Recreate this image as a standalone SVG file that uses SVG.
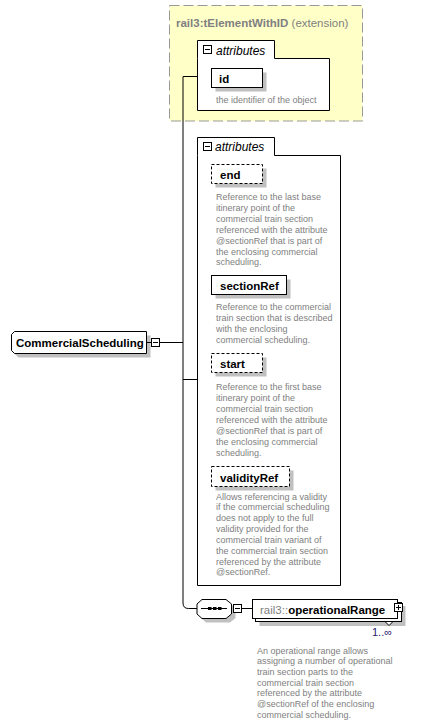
<svg xmlns="http://www.w3.org/2000/svg" width="429" height="725" viewBox="0 0 429 725">
<style>
text{font-family:"Liberation Sans",Arial,sans-serif}
.desc{font-size:9px;fill:#808080}
.lbl{font-size:11.5px;font-weight:bold;fill:#000}
.hd{font-size:12px;font-style:italic;fill:#000}
.box{fill:#fff;stroke:#000;stroke-width:1}
.dbox{fill:#fff;stroke:#000;stroke-width:1;stroke-dasharray:3,2}
.shadow{fill:#c0c0c0}
.line{fill:none;stroke:#000;stroke-width:1}
.icon{fill:#fff;stroke:#000;stroke-width:1}
</style>
<rect width="429" height="725" fill="#fff"/>

<g id="extension">
<rect x="169.5" y="5.5" width="193" height="115.5" fill="#ffffc8" stroke="#999" stroke-dasharray="10,4"/>
<text x="176" y="26.5" font-size="11.5px" fill="#808080"><tspan font-weight="bold">rail3:tElementWithID</tspan> (extension)</text>
</g>

<g id="connectors">
<path class="line" d="M183,76.5 V603 Q183,608.5 188.5,608.5 H197"/>
<line class="line" x1="183" y1="76.5" x2="197.5" y2="76.5"/>
<line class="line" x1="183" y1="379.5" x2="197.5" y2="379.5"/>
<line class="line" x1="160" y1="342.5" x2="183" y2="342.5"/>
<line class="line" x1="241.5" y1="608.5" x2="252.5" y2="608.5"/>
</g>

<g id="attributes1">
<path class="box" d="M197.5,58.5 V40.5 H274.5 V58.5 H329.5 V110.5 H197.5 Z"/>
<rect class="icon" x="203.5" y="45.5" width="8" height="8"/>
<line class="line" x1="205" y1="49.5" x2="210" y2="49.5"/>
<text class="hd" x="216" y="55">attributes</text>
</g>

<g id="attr-id">
<rect class="shadow" x="215.5" y="72.5" width="51" height="19"/>
<rect class="box" x="211.5" y="68.5" width="51" height="19"/>
<text class="lbl" x="219" y="83">id</text>
<text class="desc" x="216" y="103">the identifier of the object</text>
</g>

<g id="attributes2">
<path class="box" d="M197.5,155.5 V137.5 H274.5 V155.5 H340.5 V585.5 H197.5 Z"/>
<rect class="icon" x="203.5" y="142.5" width="8" height="8"/>
<line class="line" x1="205" y1="146.5" x2="210" y2="146.5"/>
<text class="hd" x="215" y="151">attributes</text>
</g>

<g id="attr-end">
<rect class="shadow" x="215.5" y="168.5" width="51" height="19"/>
<rect class="dbox" x="211.5" y="164.5" width="51" height="19"/>
<text class="lbl" x="220" y="179">end</text>
<text class="desc" x="216" y="200">
<tspan x="216" dy="0">Reference to the last base</tspan>
<tspan x="216" dy="10.9">itinerary point of the</tspan>
<tspan x="216" dy="10.9">commercial train section</tspan>
<tspan x="216" dy="10.9">referenced with the attribute</tspan>
<tspan x="216" dy="10.9">@sectionRef that is part of</tspan>
<tspan x="216" dy="10.9">the enclosing commercial</tspan>
<tspan x="216" dy="10.9">scheduling.</tspan>
</text>
</g>

<g id="attr-sectionRef">
<rect class="shadow" x="215.5" y="279.5" width="75" height="19"/>
<rect class="box" x="211.5" y="275.5" width="75" height="19"/>
<text class="lbl" x="220" y="290">sectionRef</text>
<text class="desc" x="216" y="309.5">
<tspan x="216" dy="0">Reference to the commercial</tspan>
<tspan x="216" dy="11">train section that is described</tspan>
<tspan x="216" dy="11">with the enclosing</tspan>
<tspan x="216" dy="11">commercial scheduling.</tspan>
</text>
</g>

<g id="attr-start">
<rect class="shadow" x="215.5" y="357.5" width="51" height="19"/>
<rect class="dbox" x="211.5" y="353.5" width="51" height="19"/>
<text class="lbl" x="220" y="368">start</text>
<text class="desc" x="216" y="389.5">
<tspan x="216" dy="0">Reference to the first base</tspan>
<tspan x="216" dy="11">itinerary point of the</tspan>
<tspan x="216" dy="11">commercial train section</tspan>
<tspan x="216" dy="11">referenced with the attribute</tspan>
<tspan x="216" dy="11">@sectionRef that is part of</tspan>
<tspan x="216" dy="11">the enclosing commercial</tspan>
<tspan x="216" dy="11">scheduling.</tspan>
</text>
</g>

<g id="attr-validityRef">
<rect class="shadow" x="215.5" y="470.5" width="78" height="20"/>
<rect class="dbox" x="211.5" y="466.5" width="78" height="20"/>
<text class="lbl" x="220" y="481.5">validityRef</text>
<text class="desc" x="216" y="499.5">
<tspan x="216" dy="0">Allows referencing a validity</tspan>
<tspan x="216" dy="10.85">if the commercial scheduling</tspan>
<tspan x="216" dy="10.85">does not apply to the full</tspan>
<tspan x="216" dy="10.85">validity provided for the</tspan>
<tspan x="216" dy="10.85">commercial train variant of</tspan>
<tspan x="216" dy="10.85">the commercial train section</tspan>
<tspan x="216" dy="10.85">referenced by the attribute</tspan>
<tspan x="216" dy="10.85">@sectionRef.</tspan>
</text>
</g>

<g id="CommercialScheduling">
<path class="shadow" d="M18.5,335.5 H150.5 V357.5 H18.5 L15.5,354.5 V338.5 Z"/>
<path class="box" d="M14.5,331.5 H146.5 V353.5 H14.5 L11.5,350.5 V334.5 Z"/>
<text class="lbl" x="16" y="346.5">CommercialScheduling</text>
<line class="line" x1="146.5" y1="342.5" x2="151.5" y2="342.5"/>
<rect class="icon" x="151.5" y="338.5" width="8" height="8"/>
<line class="line" x1="153" y1="342.5" x2="158" y2="342.5"/>
</g>

<g id="sequence">
<polygon class="shadow" points="206,603.5 230,603.5 235.5,608 235.5,618 230,622.5 206,622.5 201,618 201,608"/>
<polygon class="box" points="202,599.5 226,599.5 231.5,604 231.5,614 226,618.5 202,618.5 197,614 197,604"/>
<line class="line" x1="201" y1="608.5" x2="227" y2="608.5"/>
<rect x="208" y="607" width="3.5" height="3" fill="#000"/>
<rect x="213" y="607" width="3.5" height="3" fill="#000"/>
<rect x="218" y="607" width="3.5" height="3" fill="#000"/>
<rect class="icon" x="233.5" y="604.5" width="8" height="8"/>
<line class="line" x1="235" y1="608.5" x2="240" y2="608.5"/>
</g>

<g id="operationalRange">
<rect class="shadow" x="259.5" y="606" width="146" height="20"/>
<rect class="box" x="255.5" y="602.5" width="146" height="19"/>
<rect class="box" x="252.5" y="599.5" width="145" height="19"/>
<text x="260" y="613.5" font-size="11.5px" fill="#808080">rail3::<tspan font-weight="bold" fill="#000">operationalRange</tspan></text>
<rect class="icon" x="394.5" y="603.5" width="8" height="8"/>
<line class="line" x1="396" y1="607.5" x2="401" y2="607.5"/>
<line class="line" x1="398.5" y1="605" x2="398.5" y2="610"/>
<polygon class="icon" points="385,621.5 393,621.5 389,625.5"/>
<text x="372" y="635.5" font-size="11px" fill="#2a1a6e">1..∞</text>
<text class="desc" x="257" y="653.5">
<tspan x="257" dy="0">An operational range allows</tspan>
<tspan x="257" dy="10.7">assigning a number of operational</tspan>
<tspan x="257" dy="10.7">train section parts to the</tspan>
<tspan x="257" dy="10.7">commercial train section</tspan>
<tspan x="257" dy="10.7">referenced by the attribute</tspan>
<tspan x="257" dy="10.7">@sectionRef of the enclosing</tspan>
<tspan x="257" dy="10.7">commercial scheduling.</tspan>
</text>
</g>
</svg>
